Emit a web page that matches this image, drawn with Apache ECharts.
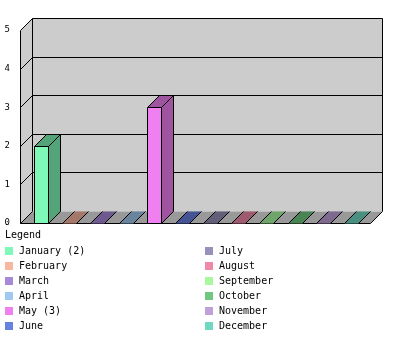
<!DOCTYPE html>
<html>
<head>
<meta charset="utf-8">
<script src="https://cdn.jsdelivr.net/npm/echarts@6/dist/echarts.min.js"></script>
<style>
html,body{margin:0;padding:0;background:#fff;}
#chart{width:400px;height:350px;}
</style>
</head>
<body>
<div id="chart"></div>
<script>
// ---- data ----
const months = ['January','February','March','April','May','June','July','August','September','October','November','December'];
const counts = [2,0,0,0,3,0,0,0,0,0,0,0];
const monthColors = ['#80F8B8','#F8B8A0','#A888D8','#A0C8F0','#F080F0','#6880E0','#9890B8','#F088A8','#A8F8A0','#70C880','#C0A0D8','#70D8C0'];
const yTicks = [0,1,2,3,4,5];
const yMax = 5;

// ---- style constants ----
const D = 12; // 3D depth in px
const FONT = '"DejaVu Sans Mono", "Liberation Mono", monospace';

function darken(hex, f) {
  const n = parseInt(hex.slice(1), 16);
  const r = Math.round(((n >> 16) & 255) * f);
  const g = Math.round(((n >> 8) & 255) * f);
  const b = Math.round((n & 255) * f);
  return 'rgb(' + r + ',' + g + ',' + b + ')';
}

function renderFrame(params, api) {
  const cs = params.coordSys;
  const x0 = cs.x, x1 = cs.x + cs.width + D; // front plane x range
  const yT = Math.round(api.coord([0, yMax])[1]) + 0.5;
  const yB = Math.round(api.coord([0, 0])[1]) + 0.5;
  const L = x0 + 0.5, R = x1 + 0.5;
  const blk = { stroke: '#000', lineWidth: 1 };
  const kids = [];
  kids.push({ type: 'rect', shape: { x: L + D, y: yT - D, width: R - L, height: yB - yT }, style: { fill: '#cccccc' } });
  kids.push({ type: 'polygon', shape: { points: [[L, yT], [L + D, yT - D], [L + D, yB - D], [L, yB]] }, style: { fill: '#cccccc' } });
  kids.push({ type: 'polygon', shape: { points: [[L, yB], [L + D, yB - D], [R + D, yB - D], [R, yB]] }, style: { fill: '#999999' } });
  yTicks.forEach(function (v) {
    const y = Math.round(api.coord([0, v])[1]) + 0.5;
    if (v > 0) {
      kids.push({ type: 'line', shape: { x1: L + D, y1: y - D, x2: R + D, y2: y - D }, style: blk });
    }
    kids.push({ type: 'line', shape: { x1: L, y1: y, x2: L + D, y2: y - D }, style: blk });
  });
  kids.push({ type: 'line', shape: { x1: L, y1: yT, x2: L, y2: yB }, style: blk });
  kids.push({ type: 'line', shape: { x1: L + D, y1: yT - D, x2: L + D, y2: yB - D }, style: blk });
  kids.push({ type: 'line', shape: { x1: R + D, y1: yT - D, x2: R + D, y2: yB - D }, style: blk });
  kids.push({ type: 'line', shape: { x1: L, y1: yB, x2: R, y2: yB }, style: blk });
  kids.push({ type: 'line', shape: { x1: R, y1: yB, x2: R + D, y2: yB - D }, style: blk });
  return { type: 'group', children: kids };
}

function renderBar(params, api) {
  const cat = api.value(0), val = api.value(1);
  const base = api.coord([cat, 0]);
  const top = api.coord([cat, val]);
  const band = api.size([1, 0])[0];
  const w = Math.round(band / 2);
  const x = Math.round(base[0]) + 0.5;
  const yb = Math.round(base[1]) + 0.5;
  const yt = Math.round(top[1]) + 0.5;
  const color = api.visual('color');
  const dark = darken(color, 0.66);
  const blk = { stroke: '#000', lineWidth: 1 };
  const kids = [];
  if (val > 0) {
    kids.push({ type: 'rect', shape: { x: x, y: yt, width: w, height: yb - yt }, style: { fill: color, stroke: '#000', lineWidth: 1 } });
    kids.push({ type: 'polygon', shape: { points: [[x, yt], [x + D, yt - D], [x + w + D, yt - D], [x + w, yt]] }, style: { fill: dark, stroke: '#000', lineWidth: 1 } });
    kids.push({ type: 'polygon', shape: { points: [[x + w, yt], [x + w + D, yt - D], [x + w + D, yb - D], [x + w, yb]] }, style: { fill: dark, stroke: '#000', lineWidth: 1 } });
  } else {
    kids.push({ type: 'polygon', shape: { points: [[x, yb], [x + D, yb - D], [x + w + D, yb - D], [x + w, yb]] }, style: { fill: dark } });
    kids.push({ type: 'line', shape: { x1: x, y1: yb, x2: x + D, y2: yb - D }, style: blk });
    kids.push({ type: 'line', shape: { x1: x + w, y1: yb, x2: x + w + D, y2: yb - D }, style: blk });
  }
  return { type: 'group', children: kids };
}

const series = [{
  name: '__frame',
  type: 'custom',
  renderItem: renderFrame,
  data: [[0, 0]],
  clip: false,
  silent: true,
  z: 1
}];
months.forEach(function (m, i) {
  series.push({
    name: m,
    type: 'custom',
    renderItem: renderBar,
    itemStyle: { color: monthColors[i] },
    data: [[i, counts[i]]],
    clip: false,
    silent: true,
    z: 2
  });
});

function legendFmt(name) {
  const c = counts[months.indexOf(name)];
  return c > 0 ? name + ' (' + c + ')' : name;
}
const legendCommon = {
  orient: 'vertical',
  icon: 'rect',
  itemWidth: 8,
  itemHeight: 8,
  itemGap: 5,
  selectedMode: false,
  padding: 0,
  formatter: legendFmt,
  itemStyle: { borderWidth: 0 },
  textStyle: { fontFamily: FONT, fontSize: 10, color: '#000', lineHeight: 10, padding: [0, 0, 0, 1] }
};

const chart = echarts.init(document.getElementById('chart'), null, { renderer: 'canvas' });
chart.setOption({
  animation: false,
  backgroundColor: '#ffffff',
  title: {
    text: 'Legend',
    left: 5,
    top: 230,
    padding: 0,
    textStyle: { fontFamily: FONT, fontSize: 10, fontWeight: 'normal', color: '#000' }
  },
  legend: [
    Object.assign({}, legendCommon, { left: 5, top: 246, data: months.slice(0, 6) }),
    Object.assign({}, legendCommon, { left: 205, top: 246, data: months.slice(6) })
  ],
  grid: { left: 20, right: 42, top: 30, bottom: 127 },
  xAxis: {
    type: 'category',
    data: months,
    axisLine: { show: false },
    axisTick: { show: false },
    axisLabel: { show: false },
    splitLine: { show: false }
  },
  yAxis: {
    type: 'value',
    min: 0,
    max: yMax,
    interval: 1,
    axisLine: { show: false },
    axisTick: { show: false },
    splitLine: { show: false },
    axisLabel: { margin: 10, fontFamily: FONT, fontSize: 9, color: '#000' }
  },
  series: series
});
</script>
</body>
</html>
